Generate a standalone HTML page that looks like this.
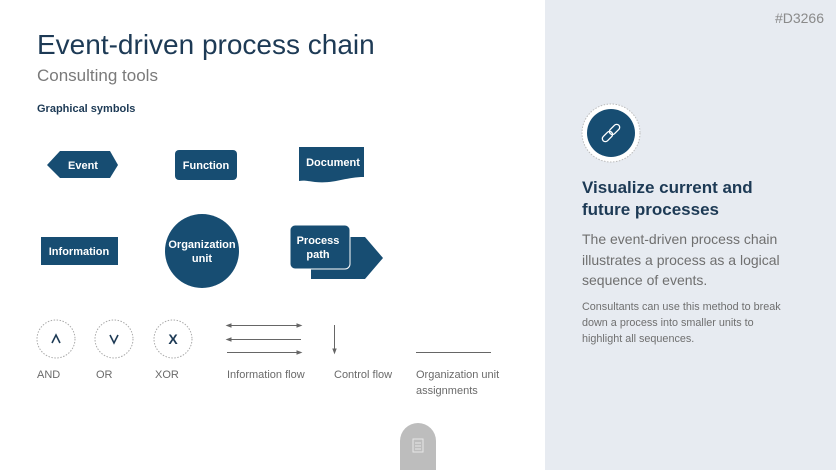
<!DOCTYPE html>
<html><head><meta charset="utf-8"><style>
body{margin:0;width:836px;height:470px;position:relative;overflow:hidden;background:#fff;font-family:"Liberation Sans",sans-serif;}
.a{position:absolute;white-space:nowrap}
</style></head><body>
<div class="a" style="left:545px;top:0;width:291px;height:470px;background:#e7ebf1"></div>
<div class="a" style="left:37px;top:29px;font-size:28px;color:#1d3a55">Event-driven process chain</div>
<div class="a" style="left:37px;top:66px;font-size:17px;color:#7a7a7a">Consulting tools</div>
<div class="a" style="left:37px;top:103px;font-size:11px;font-weight:bold;color:#1d3a55">Graphical symbols</div>
<div class="a" style="right:12px;top:10px;font-size:14px;color:#8a8a8a">#D3266</div>

<svg class="a" style="left:0;top:0" width="545" height="470" font-family="Liberation Sans, sans-serif">
<g fill="#174d72">
<polygon points="47,165 60,151 110,151 118,165 110,178 60,178"/>
<rect x="175" y="150" width="62" height="30" rx="4"/>
<path d="M299,147 H364 V177 C345,177 335,184 315,182 C308,181 304,180 299,181 Z"/>
<rect x="41" y="237" width="77" height="28"/>
<circle cx="202" cy="251" r="37"/>
<polygon points="311,237 365,237 383,258 365,279 311,279"/>
<rect x="290" y="225" width="60" height="44" rx="5" stroke="#fff" stroke-width="1"/>
</g>
<g fill="#fff" font-weight="bold" font-size="11" text-anchor="middle">
<text x="83" y="169">Event</text>
<text x="206" y="169">Function</text>
<text x="333" y="166">Document</text>
<text x="79" y="255">Information</text>
<text x="202" y="248">Organization</text><text x="202" y="262">unit</text>
<text x="318" y="244">Process</text><text x="318" y="258">path</text>
</g>
<g fill="none" stroke="#aaa" stroke-width="1" stroke-dasharray="1.5,1.5">
<circle cx="56" cy="339" r="19"/><circle cx="114" cy="339" r="19"/><circle cx="173" cy="339" r="19"/>
</g>
<g fill="none" stroke="#1d3a55" stroke-width="1.6">
<polyline points="52,343 56,335 60,343"/><polyline points="110,335 114,343 118,335"/>
</g>
<text x="173" y="344" fill="#1d3a55" font-size="14" text-anchor="middle" font-weight="bold">X</text>
<g stroke="#666" stroke-width="1" fill="#666">
<line x1="229" y1="325.5" x2="299" y2="325.5"/><polygon points="227,325.5 231,324 231,327"/><polygon points="301,325.5 297,324 297,327"/>
<line x1="229" y1="339.5" x2="301" y2="339.5"/><polygon points="227,339.5 231,338 231,341"/>
<line x1="227" y1="352.5" x2="299" y2="352.5"/><polygon points="301,352.5 297,351 297,354"/>
<line x1="334.5" y1="325" x2="334.5" y2="350"/><polygon points="334.5,353 333,349 336,349"/>
<line x1="416" y1="352.5" x2="491" y2="352.5"/>
</g>
<g fill="#6a6a6a" font-size="11">
<text x="37" y="378">AND</text><text x="96" y="378">OR</text><text x="155" y="378">XOR</text>
<text x="227" y="378">Information flow</text><text x="334" y="378">Control flow</text>
<text x="416" y="378">Organization unit</text><text x="416" y="394">assignments</text>
</g>
<path d="M400,470 V441 A18,18 0 0 1 436,441 V470 Z" fill="#bdbdbd"/>
<rect x="413" y="439" width="10" height="13" fill="none" stroke="#e6e6e6" stroke-width="1"/>
<g stroke="#e6e6e6"><line x1="415" y1="443" x2="421" y2="443"/><line x1="415" y1="446" x2="421" y2="446"/><line x1="415" y1="449" x2="421" y2="449"/></g>
</svg>

<svg class="a" style="left:545px;top:0" width="291" height="470">
<circle cx="66" cy="133" r="29" fill="#fff" stroke="#bbb" stroke-dasharray="1.5,1.5"/>
<circle cx="66" cy="133" r="24" fill="#174d72"/>
<g fill="none" stroke="#fff" stroke-width="1.3" transform="rotate(-45 66 133)">
<rect x="55" y="130" width="12" height="6" rx="3"/><rect x="65" y="130" width="12" height="6" rx="3"/>
</g>
</svg>
<div class="a" style="left:582px;top:177px;font-size:17px;font-weight:bold;color:#1d3a55;line-height:22px">Visualize current and<br>future processes</div>
<div class="a" style="left:582px;top:229px;font-size:14px;color:#6f6f6f;line-height:20.5px">The event-driven process chain<br>illustrates a process as a logical<br>sequence of events.</div>
<div class="a" style="left:582px;top:299px;font-size:10.8px;color:#6f6f6f;line-height:16px">Consultants can use this method to break<br>down a process into smaller units to<br>highlight all sequences.</div>
</body></html>
